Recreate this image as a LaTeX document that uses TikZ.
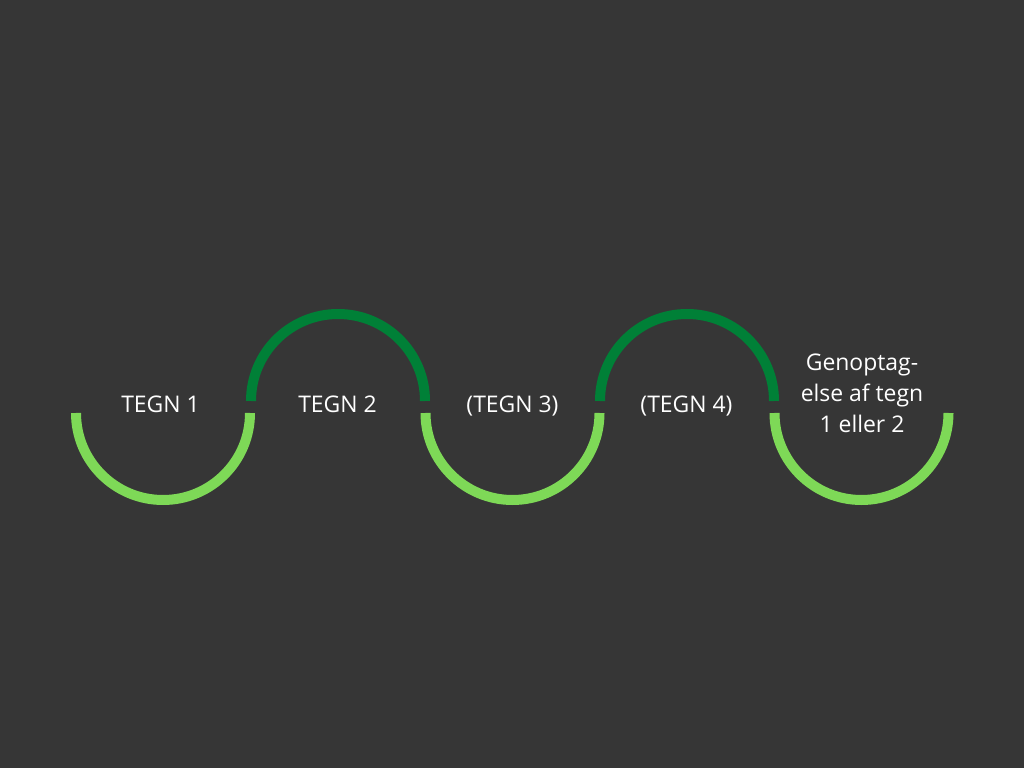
\documentclass[tikz,border=0pt]{standalone}
\usepackage{fontspec}
\setmainfont{Open Sans}
\usetikzlibrary{positioning}

\definecolor{bgdark}{HTML}{363636}
\definecolor{lightgreen}{HTML}{7ED957}
\definecolor{darkgreen}{HTML}{008037}

\tikzset{
  lowarc/.style={draw=lightgreen,line width=7.5pt},
  higharc/.style={draw=darkgreen,line width=7.5pt},
  label/.style={text=white,font=\fontsize{17.2}{23.2}\selectfont,inner sep=0pt}
}

\begin{document}
\begin{tikzpicture}[x=0.75pt,y=0.75pt]
            \fill[bgdark] (0,0) rectangle (1024,768);
            \useasboundingbox (0,0) rectangle (1024,768);
            % arcs
            \draw[lowarc] (76,355) arc[start angle=180,end angle=360,radius=65.25pt];
            \draw[higharc] (251,367) arc[start angle=180,end angle=0,radius=65.25pt];
            \draw[lowarc] (425.5,355) arc[start angle=180,end angle=360,radius=65.25pt];
            \draw[higharc] (600,367) arc[start angle=180,end angle=0,radius=65.25pt];
            \draw[lowarc] (774.5,355) arc[start angle=180,end angle=360,radius=65.25pt];
            % labels
            \node[label,anchor=base] (tegn1) at (160.5,355) {TEGN 1};
            \node[label,anchor=base] (tegn2) at (337.5,355) {TEGN 2};
            \node[label,anchor=base] (tegn3) at (512.5,355) {(TEGN 3)};
            \node[label,anchor=base] (tegn4) at (686.5,355) {(TEGN 4)};
            \node[label,align=center] (resume) at (862,375) {Genoptag-\\else af tegn\\1 eller 2};
        \end{tikzpicture}
\end{document}
